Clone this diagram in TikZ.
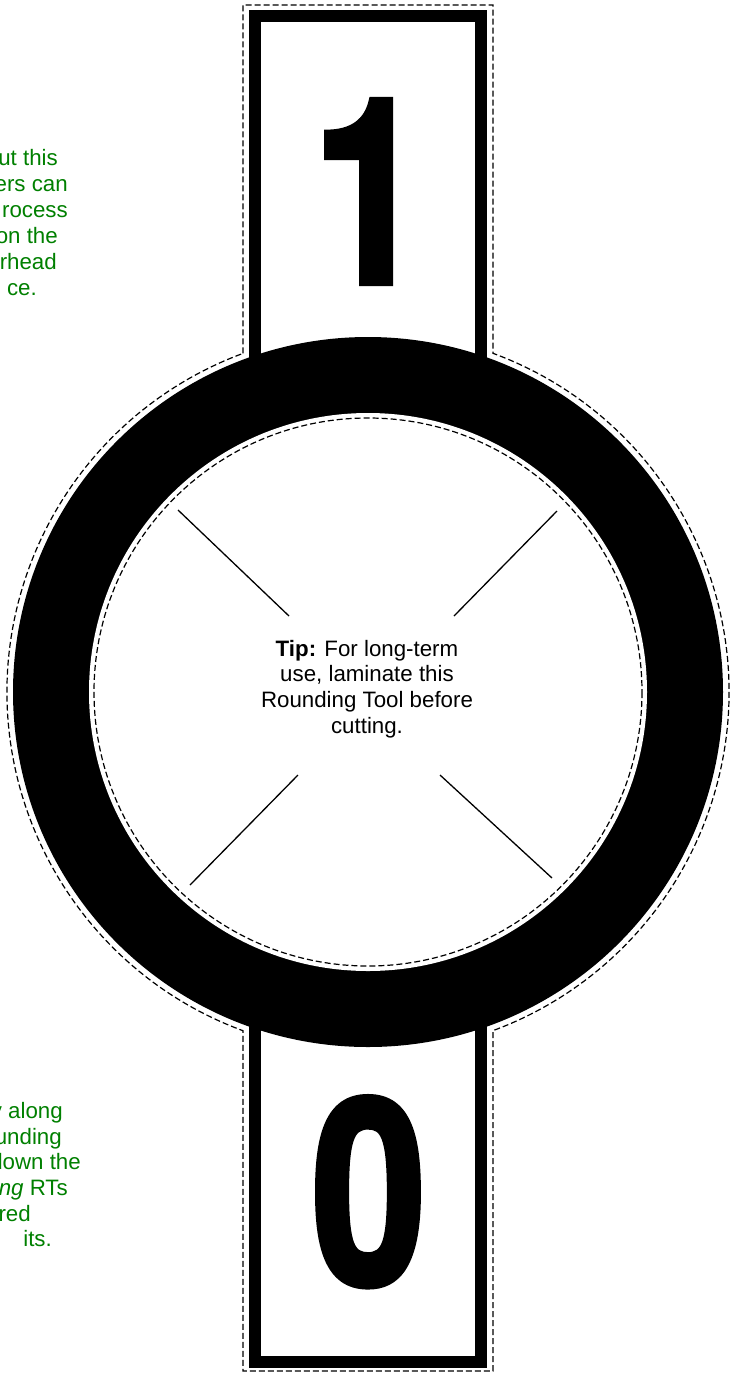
\documentclass[tikz,border=0pt]{standalone}
\usepackage{fontspec}
\setmainfont{Liberation Sans}
\newfontfamily\digitfont{TeX Gyre Heros}[BoldFeatures={FakeBold=2.5}]
\definecolor{tipgreen}{RGB}{0,128,0}
\begin{document}
\begin{tikzpicture}[x=1pt,y=-1pt,
  cutline/.style={draw=black, line width=1.2pt, dash pattern=on 6pt off 3pt},
  guideline/.style={draw=black, line width=1.3pt},
  greentext/.style={text=tipgreen, font=\fontsize{22.3}{25.7}\selectfont, inner sep=0pt, anchor=base east},
  digit/.style={font=\digitfont\bfseries\fontsize{258}{258}\selectfont, inner sep=0pt, anchor=base},
  tiptext/.style={font=\fontsize{22.3}{25.7}\selectfont, inner sep=0pt, align=center}]
\useasboundingbox (0,0) rectangle (736,1374);
\fill[white] (0,0) rectangle (736,1374);
% strip frame
\fill[black] (249,10) rectangle (487,1368);
\fill[white] (261,22) rectangle (475,1356);
% ring
\fill[black] (368,692) circle[radius=355];
\fill[white] (368,692) circle[radius=279];
\draw[cutline] (368,692) circle[radius=274];
% outer cut outline
\draw[cutline] (243,353.3) -- (243,5) -- (493,5) -- (493,353.3)
  arc[start angle=-69.74, end angle=69.74, radius=361]
  -- (493,1371) -- (243,1371) -- (243,1030.7)
  arc[start angle=110.26, end angle=249.74, radius=361] -- cycle;
% guide lines
\draw[guideline] (178,510) -- (289,616);
\draw[guideline] (557,511) -- (454,616);
\draw[guideline] (298,775) -- (190,885);
\draw[guideline] (440,775) -- (552,878);
% digits
\node[digit] (one) at (370,283) {\scalebox{0.8}[1]{1}};
\node[digit] (zero) at (369,1284) {\scalebox{0.8}[1]{0}};
% tip
\node[tiptext] (tip) at (367,689) {\textbf{Tip:} For long-term\\use, laminate this\\Rounding Tool before\\cutting.};
% green side notes (cut off)
\node[greentext] (t1) at (58,165) {ut this};
\node[greentext] (t2) at (68,191) {ers can};
\node[greentext] (t3) at (68,217) {rocess};
\node[greentext] (t4) at (58,243) {on the};
\node[greentext] (t5) at (57,269) {erhead};
\node[greentext] (t6) at (37,295) {ce.};
\node[greentext] (b1) at (63,1118) {v along};
\node[greentext] (b2) at (62,1144) {unding};
\node[greentext] (b3) at (81,1169) {down the};
\node[greentext] (b4) at (68,1195) {\textit{ng} RTs};
\node[greentext] (b5) at (31,1221) {red};
\node[greentext] (b6) at (52,1246) {its.};
\end{tikzpicture}
\end{document}
